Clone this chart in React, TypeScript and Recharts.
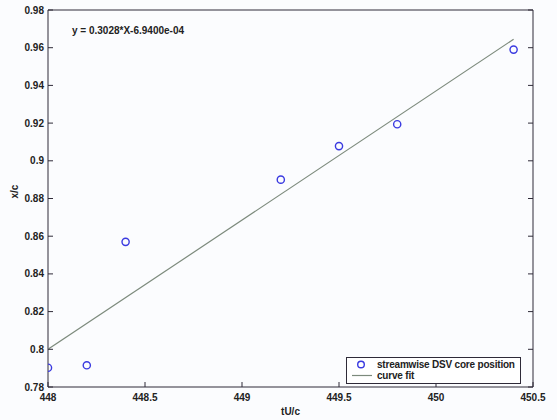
import React from 'react';
import { ComposedChart, Scatter, XAxis, YAxis, Legend } from 'recharts';

// measured core positions
const tU = [448.0, 448.2, 448.4, 449.2, 449.5, 449.8, 450.4];
const xc = [0.7902, 0.7915, 0.857, 0.890, 0.9078, 0.9194, 0.959];

// straight fit, ends
const fitX = [448.0, 450.4];
const fitY = [0.8, 0.9645];

const xTicks = [448, 448.5, 449, 449.5, 450, 450.5];
const yTicks = [0.78, 0.8, 0.82, 0.84, 0.86, 0.88, 0.9, 0.92, 0.94, 0.96, 0.98];
const equation = 'y = 0.3028*X-6.9400e-04';

const points = tU.map((x, i) => ({ x, y: xc[i] }));
const fitLine = fitX.map((x, i) => ({ x, y: fitY[i] }));

const AXIS = '#2e2a38';
const DOT = '#3a3ae0';
const FIT = '#7c8a7c';
const FONT = '"Liberation Sans", Arial, sans-serif';
const TICK_LEN = 5;
const GAP = 4;

const fmt = (v: number) => String(Number(v.toFixed(2)));

// tick label + inward tick mark
const LeftTick = (props: any) => {
    const { x, y, payload } = props;
    return (
        <g>
            <line x1={x + GAP} x2={x + GAP + TICK_LEN} y1={y} y2={y} stroke={AXIS} />
            <text x={x} y={y} dy={3.5} textAnchor="end" fontSize={10} fontWeight="bold" fill="#222" fontFamily={FONT}>
                {fmt(payload.value)}
            </text>
        </g>
    );
};

const BottomTick = (props: any) => {
    const { x, y, payload } = props;
    return (
        <g>
            <line x1={x} x2={x} y1={y - GAP} y2={y - GAP - TICK_LEN} stroke={AXIS} />
            <text x={x} y={y} dy={10} textAnchor="middle" fontSize={10} fontWeight="bold" fill="#222" fontFamily={FONT}>
                {payload.value}
            </text>
        </g>
    );
};

const RightTick = (props: any) => {
    const { x, y } = props;
    return <line x1={x - GAP} x2={x - GAP - TICK_LEN} y1={y} y2={y} stroke={AXIS} />;
};

const TopTick = (props: any) => {
    const { x, y } = props;
    return <line x1={x} x2={x} y1={y + GAP} y2={y + GAP + TICK_LEN} stroke={AXIS} />;
};

const Ring = (props: any) => (
    <circle cx={props.cx} cy={props.cy} r={3.6} fill="none" stroke={DOT} strokeWidth={1.4} />
);

const NoDot = () => <g />;

const LegendBox = () => (
    <div
        style={{
            border: `1px solid ${AXIS}`,
            background: '#fff',
            fontFamily: FONT,
            fontSize: 10,
            fontWeight: 'bold',
            color: '#222',
            padding: '1px 5px 2px 3px',
            lineHeight: '11px',
            whiteSpace: 'nowrap',
            display: 'inline-block',
        }}
    >
        <div style={{ display: 'flex', alignItems: 'center' }}>
            <svg width={24} height={11}>
                <circle cx={11} cy={5.5} r={3.3} fill="none" stroke={DOT} strokeWidth={1.4} />
            </svg>
            <span style={{ marginLeft: 3, letterSpacing: -0.2 }}>streamwise DSV core position</span>
        </div>
        <div style={{ display: 'flex', alignItems: 'center' }}>
            <svg width={24} height={11}>
                <line x1={2} x2={22} y1={5.5} y2={5.5} stroke={FIT} strokeWidth={1.2} />
            </svg>
            <span style={{ marginLeft: 3, letterSpacing: -0.2 }}>curve fit</span>
        </div>
    </div>
);

export default function App() {
    return (
        <div style={{ position: 'absolute', left: 0, top: 0, width: 557, height: 420, background: '#fbfcfe' }}>
            <ComposedChart width={557} height={420} margin={{ top: 0, right: 0, bottom: 0, left: 0 }}>
                <XAxis
                    xAxisId="b"
                    type="number"
                    dataKey="x"
                    domain={[448, 450.5]}
                    ticks={xTicks}
                    allowDataOverflow
                    height={33}
                    tickSize={0}
                    tickMargin={GAP}
                    tickLine={false}
                    tick={<BottomTick />}
                    stroke={AXIS}
                    interval={0}
                    label={{ value: 'tU/c', position: 'insideBottom', offset: 5, fontSize: 10, fontWeight: 'bold', fill: '#222', fontFamily: FONT }}
                />
                <XAxis
                    xAxisId="t"
                    orientation="top"
                    type="number"
                    domain={[448, 450.5]}
                    ticks={xTicks}
                    allowDataOverflow
                    height={10}
                    tickSize={0}
                    tickMargin={GAP}
                    tickLine={false}
                    tick={<TopTick />}
                    stroke={AXIS}
                    interval={0}
                />
                <YAxis
                    yAxisId="l"
                    type="number"
                    dataKey="y"
                    domain={[0.78, 0.98]}
                    ticks={yTicks}
                    allowDataOverflow
                    width={48}
                    tickSize={0}
                    tickMargin={GAP}
                    tickLine={false}
                    tick={<LeftTick />}
                    stroke={AXIS}
                    interval={0}
                    label={{ value: 'x/c', angle: -90, position: 'insideLeft', offset: 14, fontSize: 10, fontWeight: 'bold', fill: '#222', fontFamily: FONT }}
                />
                <YAxis
                    yAxisId="r"
                    orientation="right"
                    type="number"
                    domain={[0.78, 0.98]}
                    ticks={yTicks}
                    allowDataOverflow
                    width={24}
                    tickSize={0}
                    tickMargin={GAP}
                    tickLine={false}
                    tick={<RightTick />}
                    stroke={AXIS}
                    interval={0}
                />
                <Scatter
                    name="curve fit"
                    data={fitLine}
                    xAxisId="b"
                    yAxisId="l"
                    line={{ stroke: FIT, strokeWidth: 1.2 }}
                    shape={<NoDot />}
                    isAnimationActive={false}
                />
                <Scatter
                    name="streamwise DSV core position"
                    data={points}
                    xAxisId="b"
                    yAxisId="l"
                    shape={<Ring />}
                    isAnimationActive={false}
                />
                <Legend
                    layout="vertical"
                    align="center"
                    verticalAlign="middle"
                    content={<LegendBox />}
                    wrapperStyle={{ left: 346, top: 357, width: 'auto' }}
                />
            </ComposedChart>
            <div
                style={{
                    position: 'absolute',
                    left: 72,
                    top: 25,
                    fontFamily: FONT,
                    fontSize: 10,
                    fontWeight: 'bold',
                    color: '#222',
                    whiteSpace: 'nowrap',
                }}
            >
                {equation}
            </div>
        </div>
    );
}
